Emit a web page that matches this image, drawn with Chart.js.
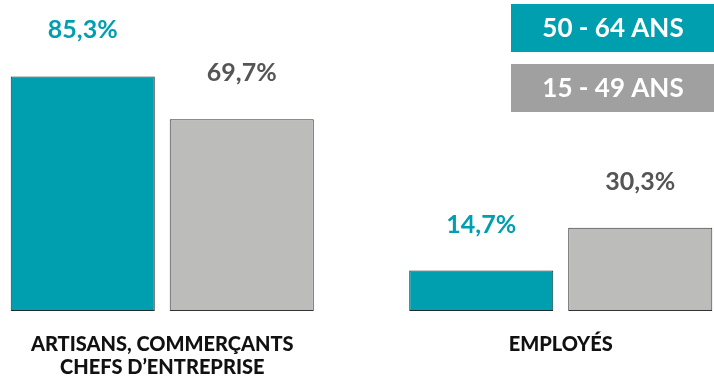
<!DOCTYPE html>
<html>
<head>
<meta charset="utf-8">
<script src="https://cdn.jsdelivr.net/npm/chart.js@4.4.0/dist/chart.umd.min.js"></script>
<style>
    html, body { margin: 0; padding: 0; background: #ffffff; overflow: hidden; }
    #contenedor { width: 714px; height: 378px; position: relative; overflow: hidden; }
    /* el lienzo es mas ancho que la ventana: los grupos quedan cortados como en el original */
    #lienzo { position: absolute; left: -37px; top: 0; width: 797px; height: 378px; }
</style>
</head>
<body>
<div id="contenedor">
    <div id="lienzo">
        <canvas id="grafica"></canvas>
    </div>
</div>
<script>
// datos del grafico
var categorias = [["ARTISANS, COMMERÇANTS", "CHEFS D’ENTREPRISE"], "EMPLOYÉS"];
var series = ["50 - 64 ANS", "15 - 49 ANS"];
var valores5064 = [85.3, 14.7];
var valores1549 = [69.7, 30.3];

var colorTeal = "#009fb0";
var colorGris = "#bcbdba";
var colorLeyenda = ["#009fb0", "#a0a0a0"];
var colorEtiqueta = ["#009fb0", "#555555"];
var desplazamiento = 37;

// etiquetas encima de cada barra
var etiquetas = {
    id: "etiquetas",
    afterDatasetsDraw: function(chart) {
        var ctx = chart.ctx;
        ctx.save();
        ctx.font = "bold 25px Lato";
        ctx.textAlign = "center";
        ctx.textBaseline = "middle";
        chart.data.datasets.forEach(function(ds, i) {
            var meta = chart.getDatasetMeta(i);
            meta.data.forEach(function(barra, j) {
                var texto = ds.data[j].toFixed(1).replace(".", ",") + "%";
                ctx.fillStyle = colorEtiqueta[i];
                ctx.fillText(texto, barra.x, barra.y - 46);
            });
        });
        ctx.restore();
    }
};

// leyenda en cajas de color arriba a la derecha
var leyenda = {
    id: "leyenda",
    afterDraw: function(chart) {
        var ctx = chart.ctx;
        ctx.save();
        ctx.font = "bold 26px Lato";
        ctx.textAlign = "center";
        ctx.textBaseline = "middle";
        chart.data.datasets.forEach(function(ds, i) {
            var y = 4 + i * 60;
            ctx.fillStyle = colorLeyenda[i];
            ctx.fillRect(511 + desplazamiento, y, 203, 48);
            ctx.fillStyle = "#ffffff";
            ctx.fillText(ds.label, 613 + desplazamiento, y + 25);
        });
        ctx.restore();
    }
};

new Chart(document.getElementById("grafica"), {
    type: "bar",
    data: {
        labels: categorias,
        datasets: [
            {
                label: series[0],
                data: valores5064,
                backgroundColor: colorTeal,
                borderColor: "#1f2a2c",
                borderWidth: 1,
                borderSkipped: false
            },
            {
                label: series[1],
                data: valores1549,
                backgroundColor: colorGris,
                borderColor: "#333333",
                borderWidth: 1,
                borderSkipped: false
            }
        ]
    },
    options: {
        responsive: true,
        maintainAspectRatio: false,
        animation: false,
        categoryPercentage: 0.798,
        barPercentage: 0.906,
        layout: {
            padding: { left: 0, right: 0, top: 36, bottom: 0 }
        },
        plugins: {
            legend: { display: false },
            tooltip: { enabled: false }
        },
        scales: {
            x: {
                grid: { display: false, drawTicks: false },
                border: { display: false },
                afterFit: function(escala) {
                    escala.height = 67;
                },
                ticks: {
                    color: "#111111",
                    padding: 22,
                    maxRotation: 0,
                    font: { family: "Lato", weight: "900", size: 20, lineHeight: 1.15 }
                }
            },
            y: {
                display: false,
                min: 0,
                max: 100
            }
        }
    },
    plugins: [etiquetas, leyenda]
});
</script>
</body>
</html>
